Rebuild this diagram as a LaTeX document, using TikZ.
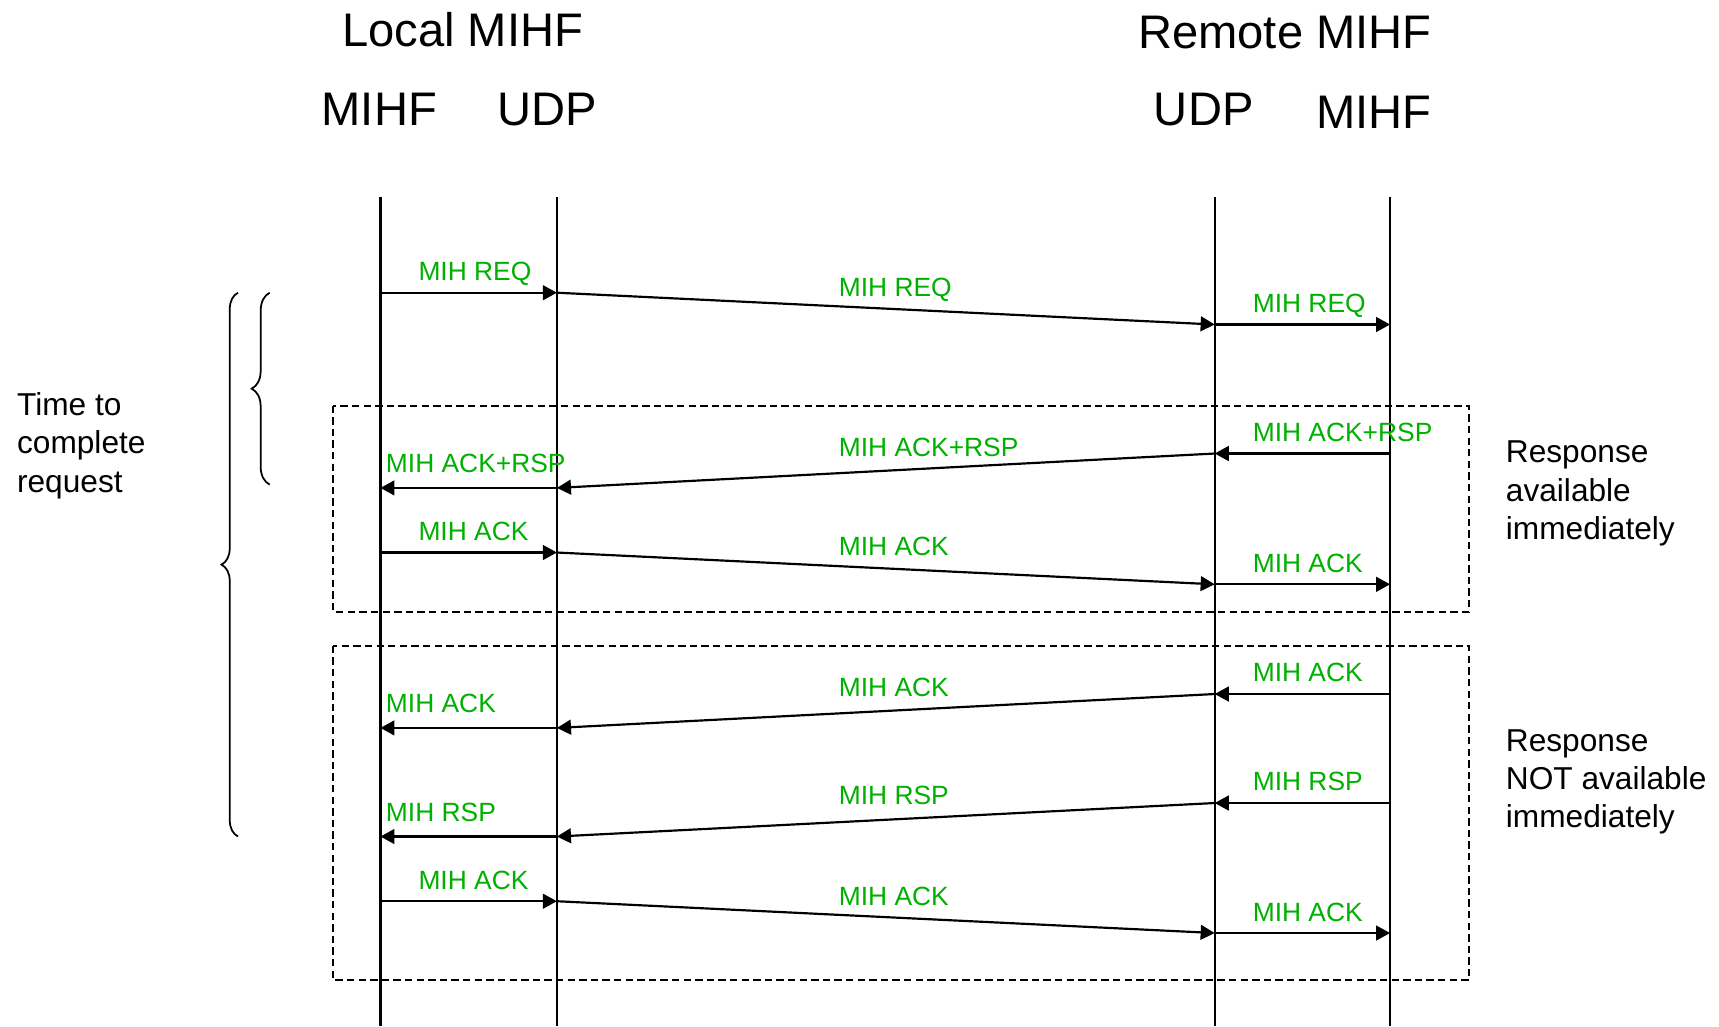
\documentclass[tikz,border=0pt]{standalone}
\usepackage{fontspec}
\setmainfont{Liberation Sans}
\usetikzlibrary{arrows.meta,decorations.pathreplacing}
\definecolor{mihgreen}{RGB}{0,176,0}

\begin{document}
\begin{tikzpicture}[x=0.01cm,y=-0.01cm,
	lifeline/.style={line width=0.65pt},
	msg/.style={line width=0.62pt,-{Triangle[length=4pt,width=4.2pt]}},
	lbl/.style={text=mihgreen,font=\fontsize{7.5}{9}\selectfont,inner sep=0pt,text depth=0pt},
	hdr/.style={font=\fontsize{13.4}{16}\selectfont,inner sep=0pt},
	note/.style={font=\fontsize{9}{10.9}\selectfont,align=left,inner sep=0pt,anchor=north west},
	group/.style={line width=0.6pt,dash pattern=on 2.1pt off 1.2pt},
	timebrace/.style={line width=0.5pt,decorate,decoration={brace,amplitude=#1}}]
	\useasboundingbox (0,0) rectangle (1719,1026);
	\node[hdr] (local) at (462.6,29.6) {Local MIHF};
	\node[hdr] (remote) at (1284.9,32.9) {Remote MIHF};
	\node[hdr] (lmihf) at (379.3,109.6) {MIHF};
	\node[hdr] (ludp) at (547,109.6) {UDP};
	\node[hdr] (rudp) at (1203.7,109.6) {UDP};
	\node[hdr] (rmihf) at (1373.7,111.8) {MIHF};
	\coordinate (lm-top) at (380.4,197.3);
	\coordinate (lm-bot) at (380.4,1026);
	\coordinate (lu-top) at (556.9,197.3);
	\coordinate (lu-bot) at (556.9,1026);
	\coordinate (ru-top) at (1214.7,197.3);
	\coordinate (ru-bot) at (1214.7,1026);
	\coordinate (rm-top) at (1390.1,197.3);
	\coordinate (rm-bot) at (1390.1,1026);
	\draw[lifeline] (lm-top) -- (lm-bot);
	\draw[lifeline] (lu-top) -- (lu-bot);
	\draw[lifeline] (ru-top) -- (ru-bot);
	\draw[lifeline] (rm-top) -- (rm-bot);
	\draw[group] (333.3,405.6) rectangle (1469,611.7);
	\draw[group] (333.3,645.7) rectangle (1469,980.1);
	\coordinate (L1) at (380.4,292.7); \coordinate (U1) at (556.9,292.7);
	\coordinate (V1) at (1214.7,324.5); \coordinate (R1) at (1390.1,324.5);
	\coordinate (R2) at (1390.1,453.5); \coordinate (V2) at (1214.7,453.5);
	\coordinate (U2) at (556.9,487.9); \coordinate (L2) at (380.4,487.9);
	\coordinate (L3) at (380.4,552.5); \coordinate (U3) at (556.9,552.5);
	\coordinate (V3) at (1214.7,584.3); \coordinate (R3) at (1390.1,584.3);
	\coordinate (R4) at (1390.1,694); \coordinate (V4) at (1214.7,694);
	\coordinate (U4) at (556.9,727.9); \coordinate (L4) at (380.4,727.9);
	\coordinate (R5) at (1390.1,803); \coordinate (V5) at (1214.7,803);
	\coordinate (U5) at (556.9,836.5); \coordinate (L5) at (380.4,836.5);
	\coordinate (L6) at (380.4,901.2); \coordinate (U6) at (556.9,901.2);
	\coordinate (V6) at (1214.7,933); \coordinate (R6) at (1390.1,933);
	\draw[msg] (L1) -- node[lbl,at start,anchor=south west,xshift=0.37cm,yshift=1.1mm] {MIH REQ} (U1);
	\draw[msg] (U1) -- node[lbl,midway,anchor=south west,xshift=-0.48cm,yshift=1.1mm] {MIH REQ} (V1);
	\draw[msg] (V1) -- node[lbl,at start,anchor=south west,xshift=0.37cm,yshift=1.05mm] {MIH REQ} (R1);
	\draw[msg] (R2) -- node[lbl,at end,anchor=south west,xshift=0.37cm,yshift=1.1mm] {MIH ACK+RSP} (V2);
	\draw[msg] (V2) -- node[lbl,midway,anchor=south west,xshift=-0.48cm,yshift=1.35mm] {MIH ACK+RSP} (U2);
	\draw[msg] (U2) -- node[lbl,at end,anchor=south west,xshift=0.045cm,yshift=1.4mm] {MIH ACK+RSP} (L2);
	\draw[msg] (L3) -- node[lbl,at start,anchor=south west,xshift=0.37cm,yshift=1.1mm] {MIH ACK} (U3);
	\draw[msg] (U3) -- node[lbl,midway,anchor=south west,xshift=-0.48cm,yshift=1.15mm] {MIH ACK} (V3);
	\draw[msg] (V3) -- node[lbl,at start,anchor=south west,xshift=0.37cm,yshift=1.1mm] {MIH ACK} (R3);
	\draw[msg] (R4) -- node[lbl,at end,anchor=south west,xshift=0.37cm,yshift=1.1mm] {MIH ACK} (V4);
	\draw[msg] (V4) -- node[lbl,midway,anchor=south west,xshift=-0.48cm,yshift=1.3mm] {MIH ACK} (U4);
	\draw[msg] (U4) -- node[lbl,at end,anchor=south west,xshift=0.045cm,yshift=1.4mm] {MIH ACK} (L4);
	\draw[msg] (R5) -- node[lbl,at end,anchor=south west,xshift=0.37cm,yshift=1.15mm] {MIH RSP} (V5);
	\draw[msg] (V5) -- node[lbl,midway,anchor=south west,xshift=-0.48cm,yshift=1.4mm] {MIH RSP} (U5);
	\draw[msg] (U5) -- node[lbl,at end,anchor=south west,xshift=0.045cm,yshift=1.4mm] {MIH RSP} (L5);
	\draw[msg] (L6) -- node[lbl,at start,anchor=south west,xshift=0.37cm,yshift=1.1mm] {MIH ACK} (U6);
	\draw[msg] (U6) -- node[lbl,midway,anchor=south west,xshift=-0.48cm,yshift=1.1mm] {MIH ACK} (V6);
	\draw[msg] (V6) -- node[lbl,at start,anchor=south west,xshift=0.37cm,yshift=1.05mm] {MIH ACK} (R6);
	\node[note] (avail) at (1505.2,440.4) {Response\\available\\immediately};
	\node[note] (notavail) at (1505.2,728.7) {Response\\NOT available\\immediately};
	\node[note] (time) at (16.4,392) {Time to\\complete\\request};
	\draw[timebrace=0.18cm] (269.7,484.6) -- (269.7,292.7);
	\draw[timebrace=0.165cm] (238,836.5) -- (238,292.7);
\end{tikzpicture}
\end{document}
